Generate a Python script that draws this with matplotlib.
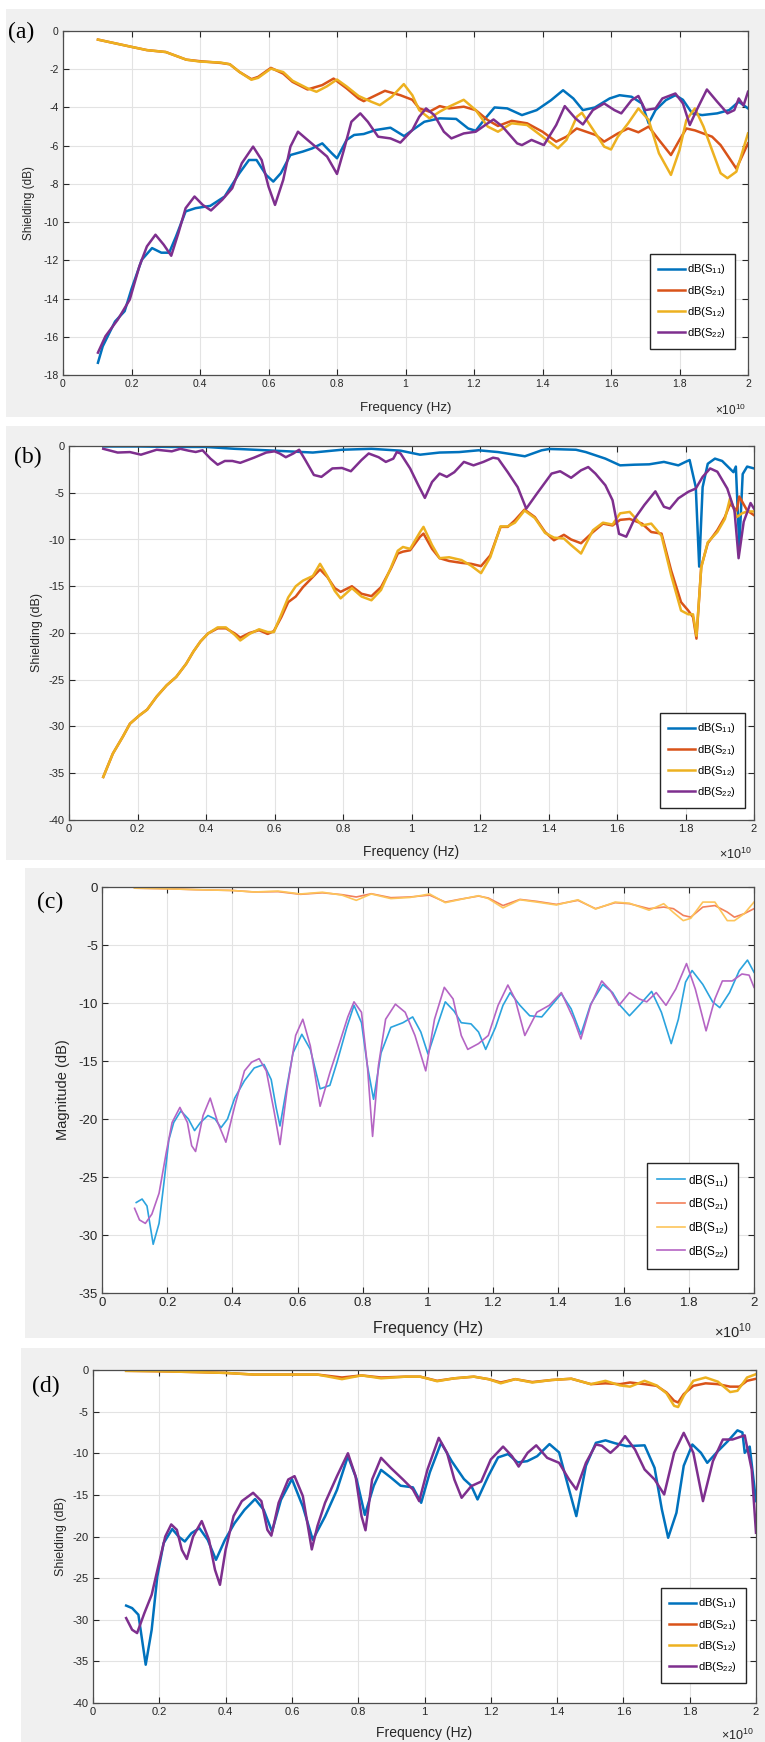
import numpy as np
import matplotlib
matplotlib.use('Agg')
import matplotlib.pyplot as plt
from matplotlib.ticker import FuncFormatter

plt.rcParams['font.family'] = ['Liberation Sans', 'DejaVu Sans']
plt.rcParams['mathtext.fontset'] = 'custom'
plt.rcParams['mathtext.rm'] = 'Liberation Sans'

W, H = 765, 1742

labels = ['dB(S$_{11}$)', 'dB(S$_{21}$)', 'dB(S$_{12}$)', 'dB(S$_{22}$)']

# ---- panel (a) : frequency in units of 1e10 Hz, value in dB ----
a_s11 = [(0.102,-17.36),(0.116,-16.5),(0.152,-15.2),(0.18,-14.66),(0.2,-13.5),(0.23,-11.97),(0.26,-11.36),
         (0.287,-11.6),(0.31,-11.6),(0.33,-10.75),(0.358,-9.44),(0.387,-9.27),(0.43,-9.15),(0.472,-8.66),
         (0.515,-7.44),(0.543,-6.75),(0.565,-6.75),(0.593,-7.53),(0.614,-7.88),(0.636,-7.44),(0.664,-6.49),
         (0.7,-6.31),(0.728,-6.14),(0.757,-5.88),(0.785,-6.4),(0.8,-6.66),(0.828,-5.7),(0.85,-5.44),(0.878,-5.39),
         (0.913,-5.18),(0.956,-5.06),(0.996,-5.5),(1.027,-5.1),(1.055,-4.75),(1.1,-4.57),(1.148,-4.6),(1.183,-5.1),
         (1.205,-5.22),(1.233,-4.57),(1.26,-4.0),(1.297,-4.05),(1.34,-4.4),(1.383,-4.14),(1.425,-3.62),(1.46,-3.1),
         (1.49,-3.53),(1.518,-4.14),(1.553,-4.0),(1.596,-3.53),(1.625,-3.36),(1.66,-3.44),(1.69,-3.79),(1.71,-4.83),
         (1.73,-4.14),(1.76,-3.62),(1.788,-3.36),(1.81,-3.6),(1.837,-4.31),(1.866,-4.4),(1.91,-4.31),(1.945,-4.14),
         (1.973,-3.7),(2.0,-4.05)]
a_s21 = [(0.102,-0.45),(0.2,-0.83),(0.245,-1.0),(0.3,-1.1),(0.36,-1.5),(0.4,-1.58),(0.46,-1.67),(0.487,-1.74),
         (0.515,-2.14),(0.55,-2.52),(0.57,-2.4),(0.607,-1.93),(0.643,-2.23),(0.67,-2.66),(0.714,-3.06),(0.757,-2.83),
         (0.79,-2.49),(0.828,-3.0),(0.863,-3.53),(0.878,-3.67),(0.94,-3.13),(0.985,-3.36),(1.02,-3.6),(1.04,-4.05),
         (1.07,-4.22),(1.1,-3.93),(1.127,-4.05),(1.17,-3.96),(1.205,-4.14),(1.24,-4.66),(1.27,-4.97),(1.31,-4.7),
         (1.355,-4.83),(1.4,-5.27),(1.44,-5.79),(1.47,-5.53),(1.5,-5.1),(1.555,-5.44),(1.58,-5.79),(1.62,-5.36),
         (1.65,-5.1),(1.68,-5.3),(1.71,-5.0),(1.74,-5.7),(1.775,-6.49),(1.8,-5.7),(1.82,-5.1),(1.845,-5.2),
         (1.895,-5.53),(1.92,-5.97),(1.966,-7.2),(2.0,-5.88)]
a_s12 = [(0.102,-0.45),(0.2,-0.83),(0.245,-1.0),(0.3,-1.1),(0.36,-1.5),(0.4,-1.6),(0.46,-1.65),(0.487,-1.74),
         (0.515,-2.14),(0.55,-2.55),(0.57,-2.45),(0.607,-1.97),(0.643,-2.15),(0.67,-2.6),(0.714,-3.0),(0.74,-3.18),
         (0.77,-2.9),(0.8,-2.54),(0.828,-2.9),(0.863,-3.4),(0.9,-3.7),(0.925,-3.88),(0.96,-3.44),(0.995,-2.78),
         (1.02,-3.36),(1.04,-4.14),(1.07,-4.57),(1.1,-4.22),(1.127,-3.96),(1.17,-3.6),(1.205,-4.14),(1.24,-5.0),
         (1.27,-5.27),(1.31,-4.83),(1.355,-4.92),(1.4,-5.53),(1.445,-6.14),(1.47,-5.7),(1.5,-4.49),(1.515,-4.28),
         (1.555,-5.36),(1.58,-6.05),(1.6,-6.2),(1.62,-5.53),(1.65,-4.83),(1.68,-4.05),(1.71,-4.66),(1.74,-6.4),
         (1.775,-7.53),(1.8,-6.23),(1.82,-4.66),(1.845,-4.05),(1.87,-5.0),(1.895,-6.23),(1.92,-7.44),(1.94,-7.7),
         (1.966,-7.36),(2.0,-5.36)]
a_s22 = [(0.102,-16.83),(0.124,-15.97),(0.16,-15.1),(0.195,-14.05),(0.223,-12.31),(0.245,-11.27),(0.27,-10.66),
         (0.294,-11.18),(0.316,-11.76),(0.337,-10.57),(0.358,-9.27),(0.384,-8.66),(0.408,-9.1),(0.432,-9.39),
         (0.465,-8.83),(0.494,-8.23),(0.522,-6.92),(0.555,-6.05),(0.58,-6.75),(0.6,-8.14),(0.619,-9.1),(0.643,-7.79),
         (0.664,-6.05),(0.686,-5.27),(0.714,-5.7),(0.743,-6.14),(0.771,-6.57),(0.8,-7.48),(0.82,-6.23),(0.842,-4.75),
         (0.868,-4.31),(0.89,-4.75),(0.92,-5.53),(0.956,-5.62),(0.985,-5.84),(1.02,-5.18),(1.04,-4.49),(1.06,-4.05),
         (1.084,-4.4),(1.112,-5.27),(1.134,-5.62),(1.17,-5.36),(1.205,-5.27),(1.24,-4.83),(1.257,-4.63),(1.283,-5.0),
         (1.326,-5.88),(1.34,-5.97),(1.368,-5.7),(1.404,-5.97),(1.44,-4.92),(1.465,-3.93),(1.496,-4.57),(1.518,-4.89),
         (1.547,-4.14),(1.58,-3.79),(1.61,-4.14),(1.63,-4.31),(1.66,-3.62),(1.68,-3.4),(1.7,-4.14),(1.73,-4.05),
         (1.75,-3.53),(1.788,-3.27),(1.81,-3.79),(1.83,-4.92),(1.85,-4.14),(1.88,-3.06),(1.91,-3.7),(1.94,-4.31),
         (1.96,-4.14),(1.973,-3.53),(1.987,-3.9),(2.0,-3.18)]

# ---- panel (b) ----
b_s11 = [(0.1,-0.05),(0.2,-0.05),(0.3,-0.1),(0.4,-0.1),(0.484,-0.3),(0.6,-0.5),(0.712,-0.7),(0.797,-0.4),
         (0.883,-0.3),(0.968,-0.5),(1.025,-0.93),(1.082,-0.7),(1.139,-0.65),(1.196,-0.46),(1.253,-0.65),(1.331,-1.1),
         (1.38,-0.46),(1.402,-0.32),(1.48,-0.4),(1.509,-0.65),(1.566,-1.35),(1.609,-2.07),(1.651,-2.0),(1.694,-1.96),
         (1.737,-1.7),(1.779,-2.07),(1.8,-1.7),(1.812,-1.5),(1.83,-4.4),(1.84,-12.9),(1.85,-4.4),(1.865,-1.9),
         (1.886,-1.35),(1.907,-1.6),(1.929,-2.4),(1.94,-2.8),(1.947,-2.2),(1.957,-10.8),(1.967,-3.0),(1.98,-2.2),
         (2.0,-2.4)]
b_s21 = [(0.1,-35.4),(0.128,-32.9),(0.157,-31.1),(0.178,-29.7),(0.206,-28.8),(0.228,-28.2),(0.256,-26.8),
         (0.285,-25.6),(0.313,-24.7),(0.342,-23.3),(0.363,-22.0),(0.384,-20.9),(0.406,-20.05),(0.434,-19.5),
         (0.458,-19.5),(0.484,-20.05),(0.5,-20.5),(0.527,-20.0),(0.555,-19.7),(0.58,-20.1),(0.598,-19.8),(0.62,-18.3),
         (0.64,-16.7),(0.662,-16.1),(0.683,-15.1),(0.712,-14.0),(0.733,-13.2),(0.754,-14.0),(0.776,-15.2),
         (0.793,-15.6),(0.826,-15.0),(0.854,-15.8),(0.883,-16.06),(0.911,-15.1),(0.94,-13.1),(0.96,-11.5),
         (0.975,-11.3),(0.996,-11.15),(1.025,-9.7),(1.035,-9.37),(1.06,-11.0),(1.082,-12.0),(1.11,-12.3),
         (1.146,-12.5),(1.174,-12.6),(1.203,-12.85),(1.23,-11.7),(1.26,-8.65),(1.281,-8.65),(1.302,-7.94),
         (1.33,-6.8),(1.36,-7.6),(1.39,-9.2),(1.416,-10.08),(1.445,-9.5),(1.466,-10.0),(1.495,-10.4),(1.53,-9.2),
         (1.559,-8.3),(1.587,-8.5),(1.609,-7.9),(1.637,-7.8),(1.673,-8.3),(1.7,-9.2),(1.73,-9.37),(1.758,-13.3),
         (1.787,-16.7),(1.808,-17.6),(1.822,-18.3),(1.832,-20.6),(1.846,-12.9),(1.865,-10.4),(1.893,-9.0),
         (1.915,-7.6),(1.93,-6.2),(1.95,-6.9),(1.957,-5.4),(1.98,-6.9),(2.0,-7.4)]
b_s12 = [(0.1,-35.4),(0.128,-32.9),(0.157,-31.1),(0.178,-29.7),(0.206,-28.8),(0.228,-28.2),(0.256,-26.8),
         (0.285,-25.6),(0.313,-24.7),(0.342,-23.3),(0.363,-22.0),(0.384,-20.9),(0.406,-20.05),(0.434,-19.4),
         (0.458,-19.4),(0.484,-20.2),(0.5,-20.8),(0.527,-20.1),(0.555,-19.6),(0.58,-19.9),(0.598,-19.9),(0.62,-18.0),
         (0.64,-16.2),(0.662,-15.0),(0.683,-14.4),(0.712,-13.9),(0.733,-12.6),(0.754,-13.9),(0.776,-15.5),
         (0.793,-16.3),(0.826,-15.2),(0.854,-16.1),(0.883,-16.5),(0.911,-15.4),(0.94,-13.0),(0.96,-11.2),
         (0.975,-10.8),(0.996,-11.0),(1.025,-9.2),(1.035,-8.65),(1.06,-10.6),(1.082,-12.0),(1.11,-11.9),
         (1.146,-12.2),(1.174,-12.8),(1.203,-13.6),(1.23,-11.9),(1.26,-8.6),(1.281,-8.6),(1.302,-8.2),(1.33,-6.9),
         (1.36,-7.7),(1.39,-9.3),(1.416,-9.8),(1.445,-9.9),(1.466,-10.6),(1.495,-11.5),(1.53,-9.0),(1.559,-8.2),
         (1.587,-8.4),(1.609,-7.2),(1.637,-7.05),(1.673,-8.5),(1.7,-8.3),(1.73,-9.6),(1.758,-13.8),(1.787,-17.6),
         (1.808,-18.0),(1.822,-18.0),(1.832,-20.3),(1.846,-13.0),(1.865,-10.3),(1.893,-9.2),(1.915,-7.8),
         (1.93,-5.6),(1.95,-7.6),(1.965,-7.2),(1.98,-7.0),(2.0,-7.0)]
b_s22 = [(0.1,-0.3),(0.142,-0.7),(0.178,-0.65),(0.21,-0.93),(0.256,-0.4),(0.3,-0.57),(0.325,-0.3),(0.349,-0.5),
         (0.37,-0.64),(0.39,-0.46),(0.413,-1.35),(0.434,-2.0),(0.455,-1.6),(0.477,-1.6),(0.5,-1.8),(0.54,-1.25),
         (0.576,-0.7),(0.6,-0.57),(0.615,-0.8),(0.633,-1.2),(0.655,-0.8),(0.672,-0.4),(0.69,-1.5),(0.715,-3.1),
         (0.737,-3.3),(0.769,-2.4),(0.797,-2.35),(0.823,-2.7),(0.854,-1.5),(0.875,-0.8),(0.904,-1.2),(0.925,-1.7),
         (0.947,-1.35),(0.957,-0.65),(0.968,-0.8),(0.996,-2.4),(1.02,-4.2),(1.039,-5.55),(1.06,-3.85),(1.082,-2.95),
         (1.103,-3.3),(1.125,-2.8),(1.153,-1.7),(1.181,-2.07),(1.21,-1.7),(1.238,-1.25),(1.253,-1.35),(1.281,-2.8),
         (1.31,-4.4),(1.335,-6.7),(1.366,-5.1),(1.409,-2.95),(1.434,-2.7),(1.466,-3.4),(1.495,-2.6),(1.516,-2.25),
         (1.537,-2.95),(1.566,-4.2),(1.587,-5.8),(1.606,-9.4),(1.627,-9.7),(1.651,-7.8),(1.68,-6.3),(1.712,-4.85),
         (1.737,-6.5),(1.754,-6.7),(1.779,-5.6),(1.808,-4.9),(1.83,-4.55),(1.85,-3.3),(1.872,-2.4),(1.893,-2.75),
         (1.922,-4.55),(1.943,-6.9),(1.955,-12.0),(1.97,-8.1),(1.99,-6.1),(2.0,-6.7)]

# ---- panel (c) ----
c_s11 = [(0.105,-27.2),(0.123,-26.9),(0.138,-27.5),(0.157,-30.8),(0.175,-29.0),(0.19,-25.5),(0.205,-21.8),
         (0.22,-20.3),(0.242,-19.3),(0.265,-20.0),(0.284,-21.0),(0.302,-20.3),(0.325,-19.7),(0.347,-20.0),
         (0.365,-20.75),(0.385,-20.0),(0.407,-18.2),(0.437,-16.7),(0.467,-15.6),(0.497,-15.3),(0.519,-16.6),
         (0.534,-19.0),(0.546,-20.6),(0.564,-17.7),(0.586,-14.3),(0.613,-12.7),(0.639,-14.0),(0.669,-17.4),
         (0.699,-17.1),(0.721,-15.1),(0.751,-12.1),(0.773,-10.2),(0.796,-11.7),(0.814,-15.4),(0.833,-18.3),
         (0.856,-14.3),(0.886,-12.1),(0.923,-11.7),(0.953,-11.2),(0.978,-12.5),(1.0,-14.4),(1.028,-12.0),
         (1.053,-9.9),(1.08,-10.7),(1.102,-11.7),(1.132,-11.8),(1.155,-12.5),(1.177,-14.0),(1.207,-12.1),
         (1.23,-10.2),(1.252,-9.1),(1.282,-10.2),(1.312,-11.1),(1.349,-11.2),(1.379,-10.2),(1.409,-9.2),
         (1.439,-10.5),(1.469,-12.7),(1.499,-10.1),(1.536,-8.4),(1.566,-9.1),(1.589,-10.2),(1.618,-11.1),
         (1.648,-10.2),(1.686,-9.0),(1.716,-10.8),(1.746,-13.5),(1.768,-11.4),(1.79,-8.2),(1.81,-7.2),(1.843,-8.4),
         (1.873,-9.9),(1.895,-10.4),(1.925,-9.1),(1.955,-7.2),(1.98,-6.3),(2.0,-7.35)]
c_s21 = [(0.1,-0.1),(0.2,-0.15),(0.287,-0.23),(0.4,-0.3),(0.467,-0.43),(0.54,-0.4),(0.609,-0.63),(0.676,-0.5),
         (0.736,-0.66),(0.78,-0.86),(0.826,-0.58),(0.886,-0.92),(0.945,-0.86),(1.005,-0.7),(1.053,-1.3),
         (1.095,-1.07),(1.155,-0.78),(1.185,-0.95),(1.23,-1.6),(1.282,-1.07),(1.334,-1.24),(1.394,-1.5),(1.46,-1.15),
         (1.514,-1.87),(1.574,-1.35),(1.618,-1.44),(1.678,-1.87),(1.723,-1.73),(1.753,-1.87),(1.783,-2.45),
         (1.806,-2.6),(1.843,-1.73),(1.88,-1.6),(1.918,-2.16),(1.94,-2.6),(1.97,-2.3),(2.0,-1.87)]
c_s12 = [(0.1,-0.1),(0.2,-0.15),(0.287,-0.23),(0.4,-0.3),(0.467,-0.43),(0.54,-0.35),(0.609,-0.6),(0.676,-0.45),
         (0.736,-0.7),(0.78,-1.15),(0.826,-0.6),(0.886,-1.0),(0.945,-0.9),(1.005,-0.6),(1.053,-1.35),(1.095,-1.1),
         (1.155,-0.75),(1.185,-1.0),(1.23,-1.8),(1.282,-1.1),(1.334,-1.3),(1.394,-1.55),(1.46,-1.1),(1.514,-1.9),
         (1.574,-1.3),(1.618,-1.4),(1.678,-2.0),(1.723,-1.44),(1.753,-2.2),(1.783,-2.9),(1.806,-2.7),(1.843,-1.3),
         (1.88,-1.3),(1.918,-2.9),(1.94,-2.9),(1.97,-2.3),(2.0,-1.3)]
c_s22 = [(0.1,-27.7),(0.115,-28.7),(0.133,-29.0),(0.153,-28.2),(0.175,-26.4),(0.197,-22.9),(0.215,-20.3),
         (0.239,-19.0),(0.262,-20.3),(0.275,-22.3),(0.287,-22.8),(0.31,-19.7),(0.332,-18.2),(0.355,-20.3),
         (0.38,-22.0),(0.407,-18.9),(0.437,-15.85),(0.459,-15.1),(0.482,-14.8),(0.504,-15.85),(0.527,-19.2),
         (0.546,-22.2),(0.568,-17.4),(0.594,-12.8),(0.616,-11.4),(0.639,-13.7),(0.669,-18.9),(0.699,-16.0),
         (0.728,-13.5),(0.754,-11.2),(0.773,-9.9),(0.796,-10.8),(0.814,-15.4),(0.83,-21.5),(0.848,-15.4),
         (0.87,-11.4),(0.9,-10.1),(0.93,-10.8),(0.96,-12.8),(0.993,-15.85),(1.02,-11.4),(1.05,-8.65),(1.077,-9.65),
         (1.102,-12.8),(1.122,-14.0),(1.155,-13.5),(1.185,-12.8),(1.215,-10.2),(1.245,-8.45),(1.267,-9.65),
         (1.297,-12.8),(1.334,-10.8),(1.372,-10.2),(1.409,-9.1),(1.447,-11.4),(1.469,-13.1),(1.499,-10.2),
         (1.533,-8.1),(1.559,-8.9),(1.586,-10.2),(1.618,-9.1),(1.648,-9.65),(1.671,-9.9),(1.7,-9.1),(1.73,-10.2),
         (1.76,-8.8),(1.793,-6.6),(1.82,-8.8),(1.853,-12.4),(1.88,-9.65),(1.903,-8.1),(1.933,-8.1),(1.963,-7.5),
         (1.985,-7.6),(2.0,-8.65)]

# ---- panel (d) ----
d_s11 = [(0.1,-28.3),(0.118,-28.6),(0.137,-29.4),(0.159,-35.4),(0.177,-31.2),(0.194,-24.8),(0.213,-20.8),
         (0.239,-19.1),(0.258,-20.0),(0.277,-20.6),(0.297,-19.6),(0.321,-19.0),(0.346,-20.4),(0.371,-22.8),
         (0.398,-20.4),(0.427,-18.4),(0.457,-16.8),(0.489,-15.5),(0.515,-16.8),(0.54,-19.4),(0.567,-15.6),
         (0.6,-13.1),(0.633,-16.4),(0.663,-20.4),(0.7,-17.6),(0.736,-14.4),(0.769,-10.35),(0.795,-13.1),
         (0.82,-17.4),(0.847,-13.9),(0.869,-12.0),(0.898,-12.9),(0.928,-13.9),(0.965,-14.1),(0.99,-15.95),
         (1.016,-12.3),(1.05,-8.75),(1.082,-10.95),(1.119,-13.1),(1.141,-13.9),(1.16,-15.55),(1.193,-12.7),
         (1.222,-10.5),(1.252,-10.1),(1.281,-11.1),(1.31,-10.95),(1.34,-10.35),(1.377,-8.9),(1.406,-9.9),
         (1.436,-14.35),(1.458,-17.55),(1.487,-11.5),(1.517,-8.75),(1.546,-8.45),(1.575,-8.8),(1.61,-9.15),
         (1.664,-9.05),(1.694,-11.75),(1.716,-16.75),(1.735,-20.15),(1.76,-17.15),(1.782,-11.5),(1.808,-8.95),
         (1.834,-9.95),(1.853,-11.15),(1.885,-9.75),(1.915,-8.55),(1.944,-7.25),(1.959,-7.5),(1.966,-9.95),
         (1.981,-9.2),(2.0,-15.75)]
d_s21 = [(0.1,-0.1),(0.2,-0.15),(0.31,-0.25),(0.4,-0.35),(0.486,-0.55),(0.6,-0.55),(0.677,-0.55),(0.751,-0.9),
         (0.81,-0.65),(0.869,-0.9),(0.943,-0.8),(0.987,-0.8),(1.038,-1.3),(1.09,-1.0),(1.149,-0.8),(1.193,-1.1),
         (1.23,-1.5),(1.274,-1.1),(1.325,-1.45),(1.384,-1.2),(1.443,-1.05),(1.502,-1.7),(1.546,-1.6),(1.59,-1.7),
         (1.62,-1.5),(1.664,-1.7),(1.7,-1.9),(1.73,-2.7),(1.753,-3.7),(1.765,-3.9),(1.782,-2.9),(1.811,-1.9),
         (1.848,-1.6),(1.885,-1.7),(1.922,-2.0),(1.95,-2.0),(1.973,-1.3),(2.0,-1.05)]
d_s12 = [(0.1,-0.1),(0.2,-0.15),(0.31,-0.25),(0.4,-0.35),(0.486,-0.55),(0.6,-0.55),(0.677,-0.55),(0.751,-1.1),
         (0.81,-0.65),(0.869,-1.0),(0.943,-0.8),(0.987,-0.8),(1.038,-1.35),(1.09,-1.0),(1.149,-0.8),(1.193,-1.1),
         (1.23,-1.6),(1.274,-1.1),(1.325,-1.5),(1.384,-1.2),(1.443,-1.05),(1.502,-1.7),(1.546,-1.3),(1.59,-1.85),
         (1.62,-2.0),(1.664,-1.3),(1.7,-1.85),(1.73,-2.8),(1.753,-4.3),(1.765,-4.45),(1.782,-3.1),(1.811,-1.3),
         (1.848,-0.9),(1.885,-1.4),(1.922,-2.65),(1.944,-2.5),(1.973,-0.9),(2.0,-0.5)]
d_s22 = [(0.1,-29.8),(0.118,-31.2),(0.133,-31.6),(0.155,-29.2),(0.177,-27.0),(0.199,-23.2),(0.218,-20.0),
         (0.236,-18.55),(0.253,-19.2),(0.268,-21.6),(0.283,-22.7),(0.302,-20.0),(0.328,-18.15),(0.35,-20.4),
         (0.368,-24.0),(0.383,-25.8),(0.4,-21.6),(0.424,-17.55),(0.449,-15.75),(0.483,-14.75),(0.508,-15.75),
         (0.526,-19.2),(0.538,-19.9),(0.56,-15.95),(0.589,-13.15),(0.608,-12.75),(0.633,-15.15),(0.66,-21.55),
         (0.677,-18.75),(0.7,-15.95),(0.736,-12.75),(0.769,-10.0),(0.792,-12.75),(0.81,-17.55),(0.822,-19.25),
         (0.842,-13.15),(0.869,-10.55),(0.898,-11.75),(0.935,-13.15),(0.965,-14.35),(0.984,-15.75),(1.009,-11.95),
         (1.043,-8.15),(1.068,-9.95),(1.09,-13.15),(1.112,-15.35),(1.141,-13.95),(1.171,-13.4),(1.2,-10.75),
         (1.237,-9.2),(1.264,-10.35),(1.284,-11.6),(1.311,-9.95),(1.337,-9.05),(1.37,-10.55),(1.406,-11.15),
         (1.436,-13.15),(1.458,-14.35),(1.487,-11.15),(1.517,-8.95),(1.535,-9.1),(1.561,-9.95),(1.583,-9.15),
         (1.605,-7.95),(1.635,-9.55),(1.664,-11.95),(1.694,-13.15),(1.723,-14.95),(1.753,-9.95),(1.782,-7.55),
         (1.811,-9.95),(1.84,-15.75),(1.87,-10.95),(1.9,-8.35),(1.929,-8.35),(1.966,-7.85),(1.987,-11.95),
         (2.0,-19.55)]

dark = ['#0072BD', '#D95319', '#EDB120', '#7E2F8E']
light = ['#2BA3DE', '#F2805A', '#FDC55A', '#B565C4']

fig = plt.figure(figsize=(W / 100, H / 100), dpi=100)


def px_rect(l, t, r, b):
    return [l / W, 1 - b / H, (r - l) / W, (b - t) / H]


def panel(bg, box, series, colors, lw, ylim, ystep, ylabel, ylab_x, xlab_y, tag, tag_xy, leg_br, fs, lfs):
    # grey figure-style backdrop behind each panel
    bgax = fig.add_axes(px_rect(*bg), zorder=-5)
    bgax.set_facecolor('#f0f0f0')
    bgax.set_xticks([])
    bgax.set_yticks([])
    for sp in bgax.spines.values():
        sp.set_visible(False)

    ax = fig.add_axes(px_rect(*box), zorder=1)
    for s, c, lab in zip(series, colors, labels):
        arr = np.array(s).T
        ax.plot(arr[0], arr[1], color=c, lw=lw, label=lab, solid_joinstyle='round')
    ax.set_xlim(0, 2)
    ax.set_ylim(ylim, 0)
    ax.set_xticks(np.arange(0, 2.01, 0.2))
    ax.set_yticks(np.arange(ylim, 0.01, ystep))
    ax.xaxis.set_major_formatter(FuncFormatter(lambda v, p: '%g' % round(v, 2)))
    ax.yaxis.set_major_formatter(FuncFormatter(lambda v, p: '%g' % round(v, 2)))
    ax.grid(True, color='#e3e3e3', lw=0.8)
    ax.set_axisbelow(True)
    ax.tick_params(direction='in', top=True, right=True, length=4, width=0.8,
                   colors='#262626', labelsize=fs, pad=3)
    for sp in ax.spines.values():
        sp.set_color('#4d4d4d')
        sp.set_linewidth(0.9)
    bl, bt, br, bb = box
    bw, bh = br - bl, bb - bt
    ax.set_ylabel(ylabel, fontsize=fs + 1, color='#262626', va='center')
    ax.yaxis.set_label_coords((ylab_x - bl) / bw, 0.5)
    ax.set_xlabel('Frequency (Hz)', fontsize=fs + 2, color='#262626')
    ax.xaxis.set_label_coords(0.5, (bb - xlab_y) / bh)
    ax.xaxis.label.set_va('center')
    fig.text((br - 2) / W, 1 - (xlab_y + 2) / H, '×10$^{10}$', ha='right', va='center',
             fontsize=fs + 1, color='#262626')
    fig.text(tag_xy[0] / W, 1 - tag_xy[1] / H, tag, ha='left', va='center',
             fontsize=17, family=['Liberation Serif', 'DejaVu Serif'])
    leg = ax.legend(loc='lower right', bbox_to_anchor=((leg_br[0] - bl) / bw, (bb - leg_br[1]) / bh),
                    borderaxespad=0, fontsize=lfs, frameon=True, fancybox=False, framealpha=1,
                    handlelength=2.4, handletextpad=0.2, labelspacing=0.65, borderpad=0.8)
    leg.get_frame().set_edgecolor('#262626')
    leg.get_frame().set_linewidth(1.0)
    return ax


panel((6, 9, 765, 417), (63, 31, 748, 375), [a_s11, a_s21, a_s12, a_s22], dark, 1.8,
      -18, 2, 'Shielding (dB)', 29, 408, '(a)', (8, 32), (735, 349), 7.5, 8)
panel((6, 426, 765, 860), (69, 446, 754, 820), [b_s11, b_s21, b_s12, b_s22], dark, 1.8,
      -40, 5, 'Shielding (dB)', 37, 852, '(b)', (14, 457), (745, 808), 8, 8)
panel((25, 868, 765, 1338), (102, 887, 754, 1293), [c_s11, c_s21, c_s12, c_s22], light, 1.2,
      -35, 5, 'Magnitude (dB)', 63, 1329, '(c)', (37, 902), (738, 1269), 9.5, 8.5)
panel((21, 1348, 765, 1742), (93, 1370, 756, 1703), [d_s11, d_s21, d_s12, d_s22], dark, 1.8,
      -40, 5, 'Shielding (dB)', 61, 1733, '(d)', (32, 1386), (746, 1683), 8, 8)

fig.savefig('out.png', dpi=100, facecolor='white')
